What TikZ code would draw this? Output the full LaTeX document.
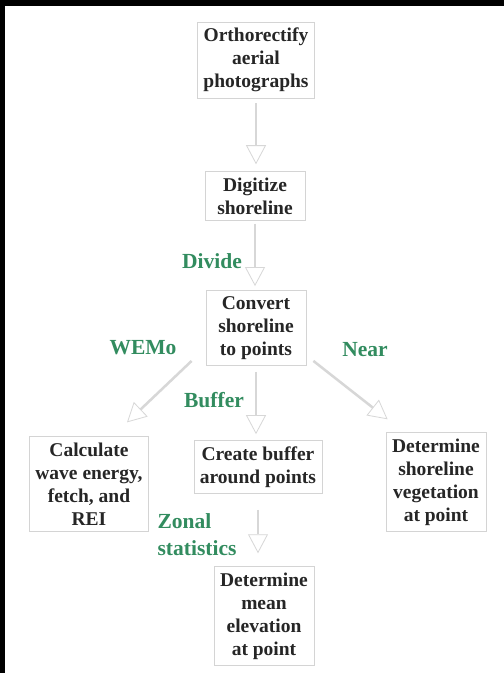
\documentclass[tikz,border=0pt]{standalone}
\usepackage{fontspec}
\setmainfont{Liberation Serif}
\usepackage{tikz}
\usetikzlibrary{positioning,arrows.meta}
\definecolor{labelgreen}{RGB}{50,140,95}
\definecolor{boxline}{RGB}{212,212,212}
\definecolor{flowgray}{RGB}{215,215,215}

\begin{document}
\begin{tikzpicture}[x=1pt,y=-1pt,
  stepbox/.style={draw=boxline,line width=0.8pt,fill=white,align=center,minimum width=100pt,
    inner sep=6pt,text=black!85,font=\fontsize{19.5}{23}\selectfont\bfseries},
  tool/.style={text=labelgreen,font=\fontsize{21.5}{27}\selectfont\bfseries},
  flow/.style={draw=flowgray,line width=2.5pt,
    -{Triangle[open,length=19pt,width=20pt,line width=0.8pt]}}]
% ================= Page and frame =================
\useasboundingbox (0,0) rectangle (504,673);
\fill[white] (0,0) rectangle (504,673);
\fill[black] (0,0) rectangle (504,6);
\fill[black] (0,0) rectangle (5,673);

% ================= Steps =================
\node[stepbox] (ortho) at (256,60) {Orthorectify\\aerial\\photographs};
\node[stepbox] (digit) at (255,196) {Digitize\\shoreline};
\node[stepbox] (conv) at (256,328) {Convert\\shoreline\\to points};
\node[stepbox] (wave) at (89,484) {Calculate\\wave energy,\\fetch, and\\REI};
\node[stepbox] (buff) at (258,467) {Create buffer\\around points};
\node[stepbox] (veg) at (436,482) {Determine\\shoreline\\vegetation\\at point};
\node[stepbox] (elev) at (264,616) {Determine\\mean\\elevation\\at point};

% ================= Tools =================
\node[tool] (divide) at (212,261) {Divide};
\node[tool] (wemo) at (143,348) {WEMo};
\node[tool] (near) at (365,350) {Near};
\node[tool] (bufferlbl) at (214,400) {Buffer};
\node[tool,align=left] (zonal) at (197,535) {Zonal\\statistics};

% ================= Flow =================
\draw[flow,shorten <=5pt,shorten >=7pt] (ortho.south) -- (ortho.south |- digit.north);
\draw[flow,shorten <=3pt,shorten >=4pt] (digit.south) -- (digit.south |- conv.north);
\draw[flow,shorten <=6pt,shorten >=6pt] (conv.south) -- (conv.south |- buff.north);
\draw[flow] ([xshift=-14pt,yshift=5pt]conv.south west) -- ([xshift=-22pt,yshift=14pt]wave.north east);
\draw[flow] ([xshift=7pt,yshift=5pt]conv.south east) -- ([xshift=2pt,yshift=13pt]veg.north west);
\draw[flow,shorten <=16pt,shorten >=13pt] (buff.south) -- (buff.south |- elev.north);
\end{tikzpicture}
\end{document}
